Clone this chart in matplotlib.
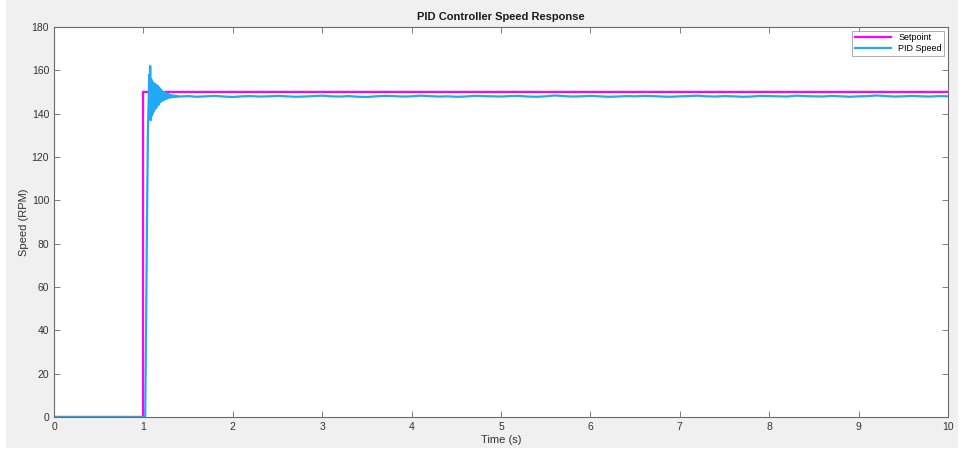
import matplotlib.pyplot as plt
import numpy as np
from matplotlib.patches import Rectangle

plt.rcParams['font.family'] = ['Liberation Sans', 'DejaVu Sans']

# Setpoint step
setpoint_t = [0, 1.0, 1.0, 10.0]
setpoint_v = [0, 0, 150, 150]

# PID speed: start-up and rise
rise_t = [0, 1.0, 1.02, 1.03, 1.04, 1.05, 1.06]
rise_v = [0, 0, 0, 40, 90, 130, 150]

# PID speed: oscillation right after the step (every 0.0055 s from 1.065 s)
osc_v = [158, 140, 162, 137, 156, 139, 155, 140, 154, 141,
         154, 142, 153.5, 142.5, 153, 143, 153, 144, 152.5, 144,
         152, 145, 151.5, 145.5, 151, 146, 150.5, 146, 150, 146.5,
         150, 146.5, 149.5, 147, 149.5, 147, 149, 147, 149, 147.5,
         148.8, 147.5, 148.6, 147.5, 148.5, 147.6, 148.4, 147.7, 148.3, 147.7,
         148.3, 147.8, 148.2, 147.8, 148.2, 147.9, 148.1, 147.9, 148.1]
osc_t = 1.065 + 0.0055 * np.arange(len(osc_v))

# PID speed: steady state (every 0.1 s from 1.4 s)
steady_v = [147.9, 148.1, 147.8, 148.0, 148.2, 147.9, 147.7, 148.0, 148.1, 147.9,
            148.0, 148.2, 148.0, 147.8, 147.9, 148.1, 148.3, 148.0, 147.9, 148.1,
            147.8, 147.7, 148.0, 148.2, 148.1, 147.9, 148.0, 148.3, 148.1, 147.9,
            148.0, 147.8, 147.9, 148.2, 148.1, 148.0, 147.9, 148.1, 148.2, 147.9,
            147.8, 148.0, 148.4, 148.1, 147.9, 148.0, 148.2, 148.0, 147.8, 147.9,
            148.1, 148.0, 148.2, 148.1, 147.9, 147.8, 148.0, 148.1, 148.3, 148.0,
            147.9, 148.1, 148.0, 147.8, 147.9, 148.2, 148.1, 148.0, 147.9, 148.3,
            148.1, 148.0, 147.9, 148.2, 148.0, 147.8, 148.0, 148.1, 148.4, 148.1,
            147.9, 148.0, 148.2, 148.0, 147.9, 148.1, 148.0]
steady_t = 1.4 + 0.1 * np.arange(len(steady_v))

speed_t = np.concatenate([rise_t, osc_t, steady_t])
speed_v = np.concatenate([rise_v, osc_v, steady_v])

fig = plt.figure(figsize=(9.66, 4.5), dpi=100, facecolor='white')
fig.patches.append(Rectangle((6 / 966, 2 / 450), 952 / 966, 448 / 450,
                             transform=fig.transFigure, facecolor='#f0f0f0',
                             edgecolor='none', zorder=-10))

ax = fig.add_axes([54 / 966, 33 / 450, 894 / 966, 390 / 450])
ax.set_facecolor('white')

ax.plot(setpoint_t, setpoint_v, color='#ff00ff', lw=1.6, label='Setpoint')
ax.plot(speed_t, speed_v, color='#1fa9f6', lw=1.6, label='PID Speed')

ax.set_xlim(0, 10)
ax.set_ylim(0, 180)
ax.set_xticks(range(0, 11))
ax.set_yticks(range(0, 181, 20))

for s in ax.spines.values():
    s.set_color('#6b6b6b')
    s.set_linewidth(0.8)
ax.tick_params(direction='in', top=True, right=True, length=4, width=0.6,
               color='#6b6b6b', labelsize=7.5, labelcolor='#333333')

ax.set_title('PID Controller Speed Response', fontsize=8, fontweight='bold',
             color='#1a1a1a', pad=5)
ax.set_xlabel('Time (s)', fontsize=8, color='#333333', labelpad=2)
ax.set_ylabel('Speed (RPM)', fontsize=8, color='#333333', labelpad=2)

leg = ax.legend(loc='upper right', fontsize=6.5, frameon=True, fancybox=False,
                handlelength=4, borderpad=0.3, labelspacing=0.2,
                borderaxespad=0.4)
leg.get_frame().set_edgecolor('#8a8a8a')
leg.get_frame().set_linewidth(0.6)

fig.savefig('out.png', dpi=100)
